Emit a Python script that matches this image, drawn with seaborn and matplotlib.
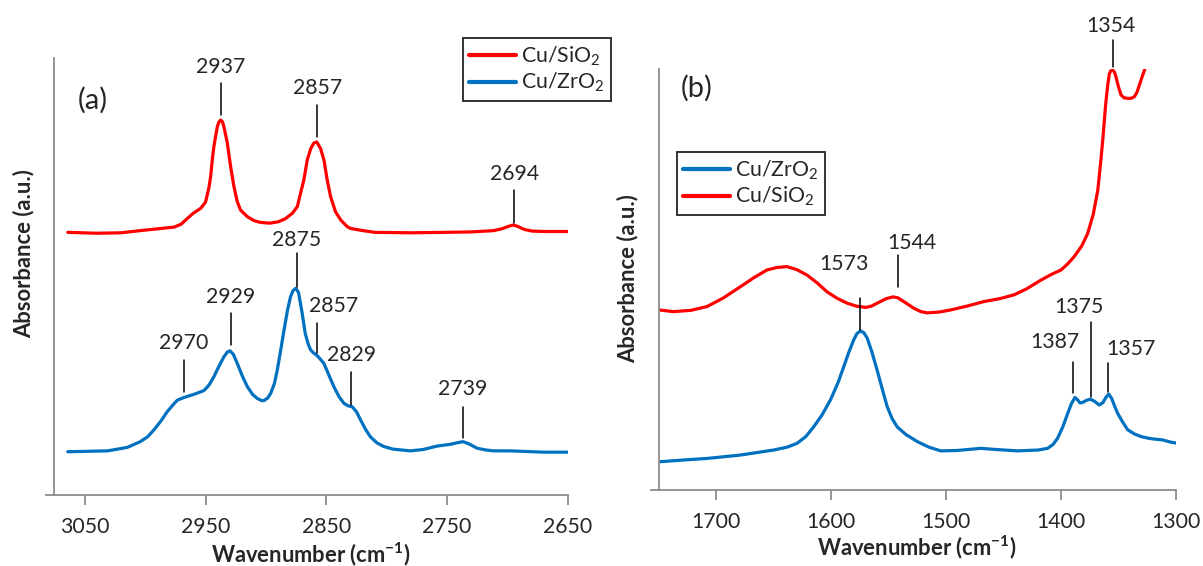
import numpy as np
import pandas as pd
import matplotlib
matplotlib.use("Agg")
import matplotlib.pyplot as plt
import seaborn as sns

# ---------------- data (panel a: C-H stretching region) ----------------
a_sio2_wn = [3064, 3040, 3020, 3004, 2990, 2976, 2970, 2965, 2960, 2954, 2950, 2947.2, 2945.8,
             2944.4, 2943.1, 2941.7, 2940.2, 2939, 2937.5, 2936, 2934.8, 2933.5, 2932.0, 2929.2,
             2926.5, 2923.7, 2921.0, 2915.4, 2910, 2905, 2897, 2890, 2884, 2878, 2874, 2871.4,
             2868.6, 2865.8, 2863, 2860.5, 2858, 2854.8, 2852, 2849.3, 2846.5, 2842.4, 2838,
             2832.7, 2830, 2822, 2810, 2780, 2753, 2730, 2711.5, 2705, 2700, 2695.4, 2691,
             2686.6, 2680, 2670, 2650]
a_sio2_abs = [0.601, 0.599, 0.600, 0.605, 0.609, 0.613, 0.620, 0.633, 0.645, 0.656, 0.670, 0.703, 0.728,
              0.767, 0.797, 0.820, 0.843, 0.853, 0.858, 0.854, 0.843, 0.826, 0.806, 0.751,
              0.706, 0.671, 0.652, 0.637, 0.628, 0.624, 0.622, 0.625, 0.632, 0.645, 0.660, 0.690,
              0.721, 0.767, 0.792, 0.805, 0.808, 0.793, 0.767, 0.721, 0.683, 0.648, 0.629,
              0.614, 0.610, 0.606, 0.601, 0.600, 0.601, 0.602, 0.605, 0.609, 0.614, 0.618, 0.614,
              0.608, 0.604, 0.603, 0.603]

a_zro2_wn = [3064, 3031, 3014.7, 3004, 2998, 2992.7, 2987, 2981.6, 2977, 2973.3, 2968, 2960, 2954,
             2951.3, 2947, 2943, 2939, 2934.8, 2932, 2929.8, 2927, 2923.7, 2919.5, 2915.4, 2911,
             2907.2, 2903.5, 2901.7, 2898.5, 2896, 2893, 2890.6, 2887.5, 2885, 2882, 2879.6,
             2877.5, 2875.2, 2873, 2870, 2867.5, 2865, 2863, 2860.5, 2858, 2855, 2852, 2848,
             2843.8, 2839.5, 2835.5, 2832, 2828.6, 2825, 2821.7, 2817.5, 2813.5, 2808, 2802.5,
             2795, 2780.4, 2770, 2758.3, 2747.3, 2741, 2736.8, 2732, 2725.2, 2718, 2711.5,
             2697.7, 2670, 2650]
a_zro2_abs = [0.099, 0.101, 0.109, 0.122, 0.133, 0.149, 0.169, 0.191, 0.206, 0.217, 0.223, 0.230, 0.236,
              0.239, 0.252, 0.271, 0.294, 0.316, 0.327, 0.330, 0.322, 0.301, 0.272, 0.248, 0.230,
              0.221, 0.216, 0.216, 0.222, 0.233, 0.255, 0.286, 0.336, 0.378, 0.425, 0.454,
              0.468, 0.473, 0.463, 0.416, 0.370, 0.345, 0.332, 0.325, 0.320, 0.311, 0.301, 0.275,
              0.248, 0.225, 0.210, 0.204, 0.202, 0.190, 0.172, 0.150, 0.133, 0.119, 0.111,
              0.105, 0.101, 0.104, 0.112, 0.116, 0.120, 0.122, 0.117, 0.107, 0.103, 0.101,
              0.101, 0.098, 0.098]

# ---------------- data (panel b: carboxylate / formate region) ----------------
b_sio2_wn = [1749.7, 1737.2, 1722, 1708, 1694, 1679, 1667, 1655.8, 1647, 1638.4, 1630, 1621, 1612,
             1603.5, 1595, 1586, 1578, 1570, 1565, 1560, 1552, 1546, 1542, 1538, 1533, 1528, 1522,
             1516.3, 1506, 1496, 1482, 1467, 1453, 1440.8, 1430, 1417.5, 1408, 1400, 1394, 1388.5,
             1382, 1376.8, 1372, 1368, 1365.5, 1363.7, 1362, 1360.8, 1359.3, 1357.9, 1356.5, 1355,
             1353.5, 1352.2, 1350, 1347.8, 1345, 1342, 1339, 1336.2, 1334, 1331.8, 1329.5, 1326.9]
b_sio2_abs = [0.428, 0.424, 0.427, 0.436, 0.456, 0.483, 0.505, 0.523, 0.529, 0.531, 0.524, 0.511, 0.492,
              0.471, 0.456, 0.444, 0.437, 0.434, 0.437, 0.444, 0.455, 0.459, 0.457, 0.450, 0.441, 0.432, 0.424,
              0.421, 0.423, 0.428, 0.437, 0.448, 0.455, 0.464, 0.478, 0.499, 0.513, 0.523, 0.538, 0.555,
              0.580, 0.610, 0.655, 0.713, 0.780, 0.832, 0.890, 0.927, 0.965, 0.990, 0.997, 0.998,
              0.993, 0.982, 0.958, 0.939, 0.932, 0.931, 0.931, 0.935, 0.945, 0.963, 0.982, 1.002]

b_zro2_wn = [1749.7, 1730, 1708, 1679, 1650, 1638, 1629.6, 1622, 1615.2, 1608, 1600.6, 1594, 1589,
             1584.5, 1580.3, 1577.5, 1574.5, 1571.5, 1568.6, 1564.5, 1560, 1555.5, 1551.2, 1547,
             1542.5, 1535, 1525, 1515, 1504.7, 1490, 1469.9, 1455, 1437.8, 1420, 1411.7, 1407, 1403,
             1398.5, 1394.2, 1391, 1387.9, 1385.5, 1383.5, 1381.3, 1378, 1374.6, 1371, 1366.7,
             1363.5, 1361, 1358.6, 1356, 1353.5, 1350.7, 1346.5, 1342, 1336, 1330.4, 1324, 1318.8,
             1311.5, 1305, 1298.5]
b_zro2_abs = [0.067, 0.071, 0.075, 0.083, 0.095, 0.102, 0.111, 0.127, 0.150, 0.178, 0.214, 0.255, 0.293,
              0.328, 0.357, 0.372, 0.378, 0.374, 0.361, 0.328, 0.285, 0.240, 0.198, 0.170,
              0.150, 0.132, 0.115, 0.102, 0.093, 0.094, 0.099, 0.096, 0.093, 0.095, 0.099, 0.108, 0.123,
              0.150, 0.182, 0.205, 0.220, 0.214, 0.207, 0.208, 0.213, 0.216, 0.211, 0.202,
              0.208, 0.220, 0.228, 0.218, 0.200, 0.182, 0.162, 0.143, 0.133, 0.127, 0.123, 0.121,
              0.119, 0.114, 0.111]

a_ticks = [3050, 2950, 2850, 2750, 2650]
b_ticks = [1700, 1600, 1500, 1400, 1300]

# peak labels: (text, line x, line bottom, line top, text x, text y)
a_peaks = [("2937", 2937.3, 0.870, 0.942, 2937.3, 0.980),
           ("2857", 2857.5, 0.820, 0.892, 2857.5, 0.931),
           ("2694", 2694.3, 0.623, 0.698, 2694.3, 0.735),
           ("2875", 2874.7, 0.477, 0.553, 2874.7, 0.584),
           ("2929", 2929.3, 0.343, 0.416, 2929.3, 0.454),
           ("2970", 2968.0, 0.236, 0.309, 2968.0, 0.347),
           ("2857", 2858.0, 0.324, 0.393, 2844.0, 0.432),
           ("2829", 2829.2, 0.206, 0.282, 2829.2, 0.320),
           ("2739", 2736.8, 0.130, 0.202, 2736.8, 0.242)]
b_peaks = [("1354", 1355.0, 1.005, 1.070, 1357.0, 1.103),
           ("1573", 1575.1, 0.380, 0.456, 1588.4, 0.537),
           ("1544", 1542.0, 0.483, 0.559, 1530.0, 0.586),
           ("1387", 1389.4, 0.230, 0.305, 1405.3, 0.352),
           ("1375", 1374.0, 0.220, 0.400, 1384.1, 0.436),
           ("1357", 1358.9, 0.234, 0.301, 1339.5, 0.334)]

RED = "#FF0000"
BLUE = "#0070C0"
GRAY = "#8C8C8C"

sns.set_style("white")
plt.rcParams["font.family"] = ["Lato", "DejaVu Sans"]
plt.rcParams["mathtext.fontset"] = "custom"
plt.rcParams["mathtext.rm"] = "Lato"
plt.rcParams["mathtext.bf"] = "Lato:bold"
plt.rcParams["mathtext.default"] = "regular"

W, H = 1203, 566
fig = plt.figure(figsize=(W / 100, H / 100), dpi=100)

def px_axes(x0, x1, ytop, ybot):
    return fig.add_axes([x0 / W, 1 - ybot / H, (x1 - x0) / W, (ybot - ytop) / H])

axa = px_axes(54, 568, 58, 495)
axb = px_axes(659, 1176, 69.3, 490)

FS = 15.3
LFS = 15.8
LW = 2.3
kw = dict(lw=LW, estimator=None, solid_joinstyle="round", solid_capstyle="round")

df_a1 = pd.DataFrame({"wn": a_sio2_wn, "abs": a_sio2_abs})
df_a2 = pd.DataFrame({"wn": a_zro2_wn, "abs": a_zro2_abs})
df_b1 = pd.DataFrame({"wn": b_zro2_wn, "abs": b_zro2_abs})
df_b2 = pd.DataFrame({"wn": b_sio2_wn, "abs": b_sio2_abs})

sns.lineplot(data=df_a1, x="wn", y="abs", ax=axa, color=RED, label="Cu/SiO$_2$", **kw)
sns.lineplot(data=df_a2, x="wn", y="abs", ax=axa, color=BLUE, label="Cu/ZrO$_2$", **kw)
sns.lineplot(data=df_b1, x="wn", y="abs", ax=axb, color=BLUE, label="Cu/ZrO$_2$", **kw)
sns.lineplot(data=df_b2, x="wn", y="abs", ax=axb, color=RED, label="Cu/SiO$_2$", **kw)

for ax, lim, ticks, ylim, ext in [(axa, (3075.4, 2650), a_ticks, (0, 1), 3082),
                                  (axb, (1749.7, 1300), b_ticks, (0, 1), 1756.7)]:
    ax.set_xlim(*lim)
    ax.set_ylim(*ylim)
    ax.set_xticks(ticks)
    ax.set_xticklabels([str(t) for t in ticks], fontsize=FS)
    ax.set_yticks([])
    ax.set_xlabel("")
    ax.set_ylabel("")
    for s in ["top", "right"]:
        ax.spines[s].set_visible(False)
    for s in ["left", "bottom"]:
        ax.spines[s].set_color(GRAY)
        ax.spines[s].set_linewidth(1.3)
    ax.spines["bottom"].set_bounds(ext, lim[1])
    ax.tick_params(axis="x", direction="out", length=7, width=1.3, color=GRAY, pad=9,
                   labelsize=FS, bottom=True)
    ax.set_facecolor("none")

for ax, peaks in [(axa, a_peaks), (axb, b_peaks)]:
    for txt, lx, yb, yt, tx, ty in peaks:
        ax.plot([lx, lx], [yb, yt], color="black", lw=1.1, clip_on=False)
        ax.text(tx, ty, txt, ha="center", va="center", fontsize=FS, clip_on=False)

axa.text(93 / W, 1 - 100 / H, "(a)", transform=fig.transFigure, fontsize=21, ha="center", va="center")
axb.text(697 / W, 1 - 88 / H, "(b)", transform=fig.transFigure, fontsize=21, ha="center", va="center")

xl = "Wavenumber (cm$^{-1}$)"
fig.text(311 / W, 1 - 554 / H, xl, fontsize=LFS, fontweight="bold", ha="center", va="center")
fig.text(917 / W, 1 - 547 / H, xl, fontsize=LFS, fontweight="bold", ha="center", va="center")
fig.text(24 / W, 1 - 254 / H, "Absorbance (a.u.)", fontsize=LFS, fontweight="bold",
         rotation=90, ha="center", va="center")
fig.text(628 / W, 1 - 279 / H, "Absorbance (a.u.)", fontsize=LFS, fontweight="bold",
         rotation=90, ha="center", va="center")

for ax, anchor in [(axa, (462.7, 38.3)), (axb, (676.7, 152.3))]:
    leg = ax.legend(loc="upper left", bbox_to_anchor=(anchor[0] / W, 1 - anchor[1] / H),
                    bbox_transform=fig.transFigure, frameon=True, fancybox=False,
                    edgecolor="black", fontsize=FS, handlelength=2.2, handletextpad=0.25,
                    labelspacing=0.15, borderpad=0.3, borderaxespad=0)
    leg.get_frame().set_linewidth(1.4)
    for l in leg.get_lines():
        l.set_linewidth(3)

fig.savefig("out.png", dpi=100)
